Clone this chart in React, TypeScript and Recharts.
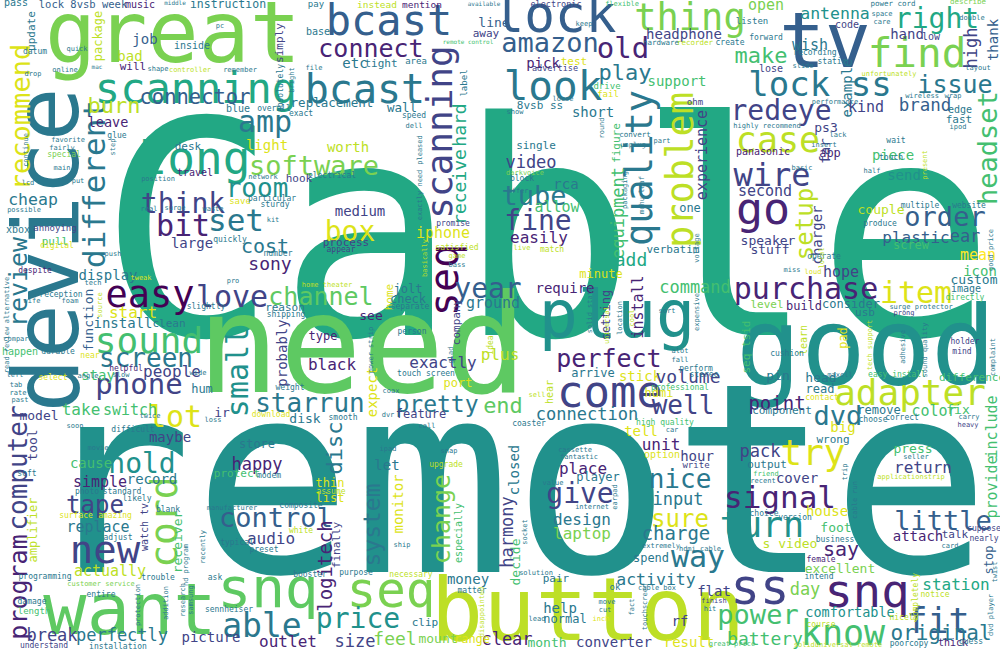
import { Scatter, ScatterChart, XAxis, YAxis } from 'recharts';

// viridis-like tones used by the word cloud
const tones = [
  '#440154', '#482475', '#414487', '#355f8d', '#2a788e', '#21918c',
  '#22a884', '#44bf70', '#7ad151', '#bddf26', '#fde725', '#5ec962', '#dde318',
];

type Row = [string, number, number, number, number, number];

// [word, weight, x, y, vertical, tone]
const headlineWords: Row[] = [
  ['Cable', 298, 547, 335, 0, 6],
  ['remote', 265, 512, 572, 0, 5],
  ['need', 137, 362, 392, 0, 11],
  ['good', 108, 866, 384, 0, 5],
  ['button', 87, 588, 640, 0, 9],
  ['great', 85, 173, 62, 0, 8],
  ['device', 90, 78, 250, 1, 4],
  ['tv', 76, 825, 67, 0, 3],
  ['want', 72, 130, 634, 0, 11],
  ['plug', 65, 617, 337, 0, 5],
];

const largeWords: Row[] = [
  ['snq', 56, 268, 607, 0, 11],
  ['seq', 49, 391, 607, 0, 8],
  ['ss', 49, 760, 604, 0, 2],
  ['snq', 47, 867, 607, 0, 1],
  ['fit', 35, 938, 633, 0, 3],
  ['know', 35, 843, 645, 0, 7],
  ['scanning', 42, 196, 103, 0, 6],
  ['bcast', 40, 365, 103, 0, 4],
  ['bcast', 42, 389, 35, 0, 3],
  ['lock', 51, 555, 32, 0, 3],
  ['thing', 37, 690, 30, 0, 8],
  ['look', 41, 553, 100, 0, 4],
  ['find', 41, 917, 67, 0, 8],
  ['lock ss', 34, 820, 96, 0, 4],
  ['seq', 40, 458, 280, 1, 0],
  ['scanning', 36, 452, 132, 1, 2],
  ['quality', 37, 652, 168, 1, 4],
  ['problem', 37, 693, 170, 1, 9],
  ['long', 46, 195, 174, 0, 6],
  ['easy', 37, 150, 307, 0, 0],
  ['sound', 36, 149, 353, 0, 7],
  ['different', 31, 105, 184, 1, 4],
  ['recommend', 27, 30, 117, 1, 12],
  ['come', 44, 610, 407, 0, 2],
  ['adapter', 36, 910, 405, 0, 9],
  ['purchase', 30, 806, 299, 0, 1],
  ['item', 30, 916, 303, 0, 12],
  ['new', 39, 105, 563, 0, 2],
  ['cord', 38, 177, 522, 1, 8],
  ['lot', 30, 175, 427, 0, 12],
  ['try', 36, 813, 465, 0, 12],
  ['turn', 35, 762, 537, 0, 5],
  ['amp', 30, 265, 132, 0, 4],
  ['bit', 30, 183, 236, 0, 1],
  ['set', 31, 236, 231, 0, 4],
  ['box', 28, 350, 241, 0, 12],
  ['love', 30, 232, 307, 0, 2],
  ['phone', 29, 139, 394, 0, 2],
  ['small', 30, 248, 372, 1, 5],
  ['redeye', 28, 781, 120, 0, 2],
  ['case', 35, 778, 152, 0, 9],
  ['wire', 32, 772, 186, 0, 2],
  ['go', 45, 763, 224, 0, 1],
  ['setup', 24, 813, 224, 1, 9],
  ['order', 27, 945, 226, 0, 3],
  ['headset', 27, 997, 148, 1, 7],
  ['right', 28, 937, 28, 0, 6],
  ['issue', 25, 955, 93, 0, 4],
  ['amazon', 27, 550, 52, 0, 3],
  ['old', 29, 623, 58, 0, 1],
  ['connect', 25, 371, 57, 0, 1],
  ['software', 27, 314, 175, 0, 8],
  ['think', 28, 183, 213, 0, 2],
  ['room', 26, 257, 197, 0, 5],
  ['tube', 27, 534, 205, 0, 4],
  ['fine', 28, 538, 230, 0, 2],
  ['channel', 25, 321, 305, 0, 11],
  ['starrun', 26, 310, 412, 0, 4],
  ['pretty', 23, 437, 412, 0, 4],
  ['year', 28, 488, 298, 0, 3],
  ['perfect', 25, 609, 367, 0, 1],
  ['well', 26, 683, 414, 0, 2],
  ['control', 27, 276, 527, 0, 3],
  ['system', 23, 380, 525, 1, 4],
  ['change', 25, 450, 519, 1, 8],
  ['price', 28, 358, 628, 0, 5],
  ['able', 33, 262, 637, 0, 4],
  ['give', 28, 580, 503, 0, 2],
  ['nice', 26, 680, 488, 0, 4],
  ['sure', 24, 680, 527, 0, 12],
  ['way', 30, 698, 567, 0, 4],
  ['signal', 31, 780, 508, 0, 1],
  ['little', 27, 943, 530, 0, 3],
  ['tape', 24, 95, 513, 0, 2],
  ['hold', 28, 142, 473, 0, 5],
  ['computer', 26, 27, 468, 1, 2],
  ['program', 25, 27, 587, 1, 1],
  ['power', 27, 758, 624, 0, 7],
  ['original', 21, 941, 640, 0, 4],
  ['dvd', 27, 838, 425, 0, 4],
  ['review', 25, 27, 282, 1, 4],
  ['disc', 22, 342, 448, 1, 4],
  ['end', 22, 503, 413, 0, 11],
  ['screen', 26, 146, 367, 0, 4],
  ['play', 22, 625, 80, 0, 4],
  ['make', 22, 761, 63, 0, 7],
];

const mediumWords: Row[] = [
  ['video', 17, 531, 168, 0, 2], ['allow', 15, 557, 212, 0, 7], ['rca', 14, 566, 189, 0, 4],
  ['one', 12, 690, 212, 0, 4], ['support', 14, 677, 86, 0, 7], ['short', 14, 593, 117, 0, 4],
  ['headphone', 14, 684, 39, 0, 2], ['pick', 14, 543, 68, 0, 1], ['test', 11, 574, 65, 0, 12],
  ['8vsb ss', 11, 540, 109, 0, 4], ['experience', 15, 707, 155, 1, 2], ['equipment', 17, 624, 213, 1, 7],
  ['figure', 11, 620, 143, 1, 7], ['single', 11, 536, 149, 0, 4], ['antenna', 16.5, 835, 19, 0, 5],
  ['open', 15, 766, 10, 0, 8], ['wish', 15, 810, 50, 0, 4], ['hand', 14, 907, 39, 0, 2],
  ['low', 10, 931, 40, 0, 2], ['high', 17, 977, 48, 1, 2], ['thank', 14, 998, 40, 1, 3],
  ['code', 10, 847, 28, 0, 2], ['example', 14, 852, 88, 1, 4], ['kind', 15, 866, 112, 0, 2],
  ['brand', 17.5, 925, 111, 0, 3], ['edge', 10, 960, 113, 0, 4], ['fast', 11, 959, 123, 0, 4],
  ['ps3', 13, 826, 132, 0, 2], ['app', 12, 830, 157, 0, 1], ['panasonic', 10, 763, 155, 0, 1],
  ['far', 14, 830, 151, 1, 2], ['piece', 14, 893, 160, 0, 7], ['send', 14, 904, 180, 0, 5],
  ['second', 15, 765, 196, 0, 2], ['couple', 13, 881, 214, 0, 9], ['charger', 14, 822, 235, 1, 2],
  ['speaker', 13, 768, 245, 0, 2], ['stuff', 13, 770, 254, 0, 2], ['plastic', 16, 916, 243, 0, 3],
  ['ear', 17, 965, 242, 0, 3], ['screw', 12, 911, 249, 0, 7], ['mean', 15, 978, 260, 0, 10],
  ['hope', 15, 841, 277, 0, 2], ['icon', 14, 980, 276, 0, 7], ['custom', 13, 974, 284, 0, 4],
  ['consider', 12, 851, 308, 0, 4], ['build', 12, 804, 310, 0, 1], ['level', 11, 767, 308, 0, 8],
  ['usb', 11, 865, 316, 0, 4], ['pin', 13, 778, 380, 0, 4], ['head', 13, 821, 382, 0, 4],
  ['difference', 11, 972, 381, 0, 7], ['read', 12, 820, 393, 0, 4], ['point', 19, 777, 410, 0, 1],
  ['component', 11, 782, 414, 0, 4], ['remove', 12, 879, 414, 0, 4], ['color', 15, 934, 416, 0, 7],
  ['fix', 13, 958, 414, 0, 7], ['include', 15, 997, 427, 1, 7], ['provide', 15, 997, 487, 1, 7],
  ['big', 14, 843, 432, 0, 12], ['pad', 12, 847, 338, 1, 12], ['learn', 10, 807, 340, 1, 9],
  ['pack', 17, 760, 457, 0, 2], ['output', 11, 767, 468, 0, 4], ['cover', 14, 797, 483, 0, 2],
  ['wrong', 11, 833, 443, 0, 4], ['press', 13, 913, 453, 0, 7], ['return', 16, 923, 473, 0, 2],
  ['house', 14, 827, 516, 0, 12], ['foot', 13, 836, 532, 0, 7], ['s video', 13, 790, 548, 0, 9],
  ['say', 20, 841, 556, 0, 1], ['attach', 14, 918, 541, 0, 1], ['talk', 11, 955, 538, 0, 2],
  ['stop', 12, 993, 560, 1, 3], ['excellent', 13, 840, 573, 0, 8], ['day', 17, 805, 595, 0, 8],
  ['station', 16, 956, 590, 0, 6], ['comfortable', 13.5, 850, 617, 0, 5], ['battery', 18, 765, 645, 0, 7],
  ['unit', 16, 661, 450, 0, 1], ['hour', 14, 697, 461, 0, 2], ['place', 16, 583, 474, 0, 1],
  ['player', 12, 598, 481, 0, 4], ['input', 17, 678, 505, 0, 4], ['design', 16, 582, 525, 0, 4],
  ['laptop', 16, 582, 539, 0, 8], ['charge', 19, 676, 540, 0, 4], ['activity', 16.5, 656, 585, 0, 4],
  ['flat', 14, 714, 596, 0, 2], ['help', 14, 560, 613, 0, 4], ['normal', 12, 565, 623, 0, 4],
  ['rf', 14, 680, 626, 0, 2], ['clear', 17, 507, 645, 0, 1], ['month', 13, 547, 647, 0, 7],
  ['converter', 14, 614, 647, 0, 2], ['result', 14, 689, 647, 0, 12], ['spend', 12, 651, 562, 0, 4],
  ['decide', 13, 520, 562, 1, 7], ['harmony', 17, 513, 532, 1, 2], ['closed', 14, 519, 470, 1, 4],
  ['money', 14, 468, 584, 0, 4], ['especially', 10, 462, 533, 1, 7], ['monitor', 14, 403, 504, 1, 12],
  ['logitech', 19, 332, 566, 1, 1], ['finally', 11, 340, 545, 1, 2], ['let', 14, 387, 470, 0, 4],
  ['thin', 12, 330, 487, 0, 12], ['list', 12, 330, 502, 0, 12], ['audio', 16, 271, 544, 0, 2],
  ['happy', 17, 257, 470, 0, 1], ['store', 12, 257, 448, 0, 4], ['protect', 11, 237, 477, 0, 7],
  ['outlet', 16, 288, 647, 0, 1], ['size', 17, 355, 647, 0, 2], ['feel', 18, 395, 645, 0, 8],
  ['mount', 13, 438, 643, 0, 8], ['range', 12, 472, 643, 0, 12], ['clip', 11, 425, 626, 0, 4],
  ['maybe', 14, 170, 442, 0, 2], ['cause', 14, 91, 468, 0, 7], ['simple', 15, 100, 487, 0, 1],
  ['record', 14, 152, 484, 0, 4], ['replace', 15, 98, 532, 0, 4], ['actually', 15, 110, 576, 0, 9],
  ['amplifier', 12, 37, 530, 1, 9], ['watch tv', 10, 148, 527, 1, 2], ['receiver', 13, 182, 542, 1, 7],
  ['break', 17, 52, 641, 0, 2], ['perfectly', 17, 122, 641, 0, 4], ['picture', 14, 211, 642, 0, 2],
  ['tool', 13, 37, 445, 1, 2], ['model', 13, 39, 420, 0, 2], ['take', 16, 81, 415, 0, 7],
  ['switch', 15, 130, 415, 0, 7], ['ir', 13, 222, 417, 0, 2], ['hum', 12, 202, 393, 0, 4],
  ['people', 16, 172, 377, 0, 2], ['stay', 14, 98, 380, 0, 7], ['install', 14, 123, 328, 0, 4],
  ['clean', 11, 169, 327, 0, 4], ['start', 16, 133, 318, 0, 12], ['function', 13, 93, 320, 1, 3],
  ['display', 14, 108, 280, 0, 4], ['large', 14, 192, 248, 0, 2], ['pull', 11, 55, 245, 0, 7],
  ['xbox', 10, 18, 233, 0, 4], ['sony', 18, 270, 270, 0, 1], ['cost', 20, 265, 253, 0, 4],
  ['cheap', 16.5, 33, 205, 0, 4], ['burn', 22, 114, 113, 0, 9], ['leave', 13.5, 108, 127, 0, 1],
  ['connector', 20.5, 195, 104, 0, 3], ['blue', 10, 238, 112, 0, 4], ['light', 14, 267, 150, 0, 12],
  ['worth', 14, 348, 152, 0, 9], ['replacement', 12.5, 332, 107, 0, 4], ['wall', 12.5, 402, 112, 0, 4],
  ['hard', 18, 466, 125, 1, 6], ['receive', 18, 466, 187, 1, 6], ['hook', 11, 299, 182, 0, 2],
  ['medium', 14, 360, 216, 0, 2], ['desk', 11, 188, 150, 0, 4], ['travel', 10, 195, 176, 0, 1],
  ['job', 14, 145, 44, 0, 3], ['bad', 14, 130, 61, 0, 9], ['will', 11, 133, 70, 0, 1],
  ['inside', 10, 192, 49, 0, 4], ['update', 11, 35, 31, 1, 4], ['package', 12, 102, 36, 1, 9],
  ['instruction', 11.5, 228, 8, 0, 4], ['lock 8vsb week', 10.5, 83, 8, 0, 3], ['music', 10, 140, 8, 0, 1],
  ['simply', 11, 283, 43, 1, 2], ['base', 10, 318, 35, 0, 4], ['etc', 14, 355, 68, 0, 4],
  ['tight', 11, 381, 67, 0, 4], ['area', 9, 416, 64, 0, 4], ['line', 13, 494, 27, 0, 3],
  ['away', 11, 486, 37, 0, 2], ['instead', 9.5, 377, 8, 0, 9], ['mention', 9.5, 422, 8, 0, 1],
  ['pay', 9, 316, 7, 0, 4], ['electronic', 8.5, 556, 7, 0, 2], ['label', 9, 467, 83, 1, 4],
  ['easily', 16, 539, 243, 0, 1], ['add', 18, 631, 266, 0, 6], ['verbatim', 11, 673, 253, 0, 4],
  ['minute', 12, 601, 278, 0, 12], ['require', 14, 565, 293, 0, 1], ['command', 17, 695, 293, 0, 7],
  ['install', 15, 643, 307, 1, 1], ['setting', 12, 610, 315, 1, 2], ['stick', 14, 640, 381, 0, 12],
  ['arrive', 12, 593, 377, 0, 4], ['volume', 18, 688, 383, 0, 2], ['hdmi', 12, 659, 397, 0, 12],
  ['connection', 17, 587, 420, 0, 4], ['seq tsid', 11, 750, 347, 1, 7], ['tell', 14, 641, 436, 0, 12],
  ['iphone', 15, 443, 238, 0, 12], ['process', 11, 346, 246, 0, 2], ['reason', 11, 285, 311, 0, 4],
  ['jolt', 12, 408, 293, 0, 4], ['home', 11, 393, 297, 1, 12], ['check', 12, 408, 303, 0, 4],
  ['ground', 15, 493, 308, 0, 4], ['see', 13, 371, 320, 0, 1], ['company', 11, 460, 322, 1, 2],
  ['probably', 14, 287, 353, 1, 2], ['type', 12, 323, 340, 0, 1], ['black', 16, 332, 370, 0, 1],
  ['exactly', 16, 443, 368, 0, 2], ['expect', 14, 377, 392, 1, 12], ['port', 12, 458, 387, 0, 12],
  ['feature', 12, 421, 418, 0, 2], ['disk', 13, 305, 423, 0, 4], ['plus', 16, 500, 360, 0, 9],
  ['drive', 9, 607, 89, 0, 7], ['fail', 9, 608, 97, 0, 12], ['ohm', 9, 695, 105, 0, 2],
  ['hardware', 7.5, 661, 45, 0, 4], ['recorder', 7.5, 695, 45, 0, 9], ['hear', 10, 553, 392, 1, 9],
];

const smallWords: Row[] = [
  ['pass', 10, 16, 6, 0, 4], ['middle', 6, 175, 5, 0, 4], ['pc', 7, 220, 28, 0, 4],
  ['quick', 7, 77, 51, 0, 4], ['datum', 8, 35, 54, 0, 4], ['online', 7, 65, 72, 0, 4],
  ['mac', 6, 97, 69, 0, 4], ['shape', 7, 158, 71, 0, 4], ['controller', 7, 190, 72, 0, 9],
  ['remember', 7, 240, 72, 0, 4], ['drop', 7, 33, 76, 0, 4], ['glue', 8, 117, 138, 0, 4],
  ['favorite', 7, 68, 142, 0, 4], ['fairly', 7, 62, 150, 0, 4], ['special', 8, 64, 157, 0, 8],
  ['main', 7, 62, 170, 0, 4], ['lcd', 7, 28, 185, 0, 4], ['put', 7, 78, 183, 0, 4],
  ['possible', 7, 24, 212, 0, 4], ['position', 7, 158, 181, 0, 4], ['save', 9, 240, 204, 0, 12],
  ['surge', 7, 175, 210, 0, 4], ['waste', 7, 213, 211, 0, 4], ['real', 7, 149, 211, 0, 4],
  ['electrical', 8, 332, 178, 0, 4], ['network', 7, 263, 179, 0, 4], ['particular', 8, 272, 201, 0, 4],
  ['sturdy', 8, 275, 207, 0, 4], ['speed', 8, 414, 118, 0, 4], ['dell', 7, 414, 128, 0, 4],
  ['overall', 8, 274, 111, 0, 4], ['exact', 8, 301, 116, 0, 4], ['file', 7, 314, 70, 0, 4],
  ['absolutely', 8, 283, 88, 1, 4], ['remote control', 6, 468, 44, 0, 7], ['available', 6, 484, 6, 0, 4],
  ['flexible', 7, 622, 6, 0, 7], ['keep', 7, 584, 26, 0, 4], ['create', 8, 730, 45, 0, 4],
  ['advertise', 8.5, 555, 71, 0, 2], ['loose', 7, 563, 101, 0, 4], ['show', 7, 515, 114, 0, 4],
  ['convert', 7.5, 635, 137, 0, 4], ['part', 7, 662, 143, 0, 4], ['unplug', 7, 633, 147, 0, 4],
  ['darkvoice', 7, 525, 175, 0, 8], ['block', 8, 522, 181, 0, 4], ['offer', 7, 518, 193, 0, 4],
  ['power cord', 7.5, 893, 6, 0, 4], ['describe', 7.5, 968, 4, 0, 8], ['double', 7, 972, 20, 0, 4],
  ['space', 7, 882, 16, 0, 4], ['care', 7, 882, 24, 0, 4], ['listen', 9, 752, 24, 0, 4],
  ['forward', 8, 766, 40, 0, 4], ['recording', 8, 815, 55, 0, 4], ['static', 8, 832, 64, 0, 4],
  ['slide', 7, 803, 68, 0, 4], ['lose', 10, 771, 72, 0, 2], ['unfortunately', 7, 889, 76, 0, 9],
  ['layout', 7, 978, 70, 0, 4], ['wireless', 7, 922, 98, 0, 4], ['wrap', 7, 953, 98, 0, 4],
  ['performance', 7, 835, 104, 0, 4], ['highly recommend', 7, 767, 128, 0, 4], ['ipod', 7, 958, 129, 0, 4],
  ['lack', 7, 838, 137, 0, 4], ['insert', 7, 824, 147, 0, 4], ['wait', 8, 896, 143, 0, 4],
  ['touch', 8, 891, 160, 0, 4], ['half', 7, 872, 173, 0, 4], ['basic', 7, 802, 170, 0, 4],
  ['multiple', 8, 920, 208, 0, 4], ['website', 8, 969, 208, 0, 4], ['produce', 8, 880, 226, 0, 4],
  ['operate', 8, 824, 259, 0, 4], ['miss', 7, 792, 272, 0, 4], ['loud', 7, 813, 274, 0, 12],
  ['image', 10, 966, 292, 0, 4], ['directly', 8, 965, 300, 0, 7], ['surge protector', 7, 921, 309, 0, 4],
  ['prong', 7, 904, 315, 0, 2], ['holder', 8, 965, 344, 0, 2], ['mind', 8, 962, 354, 0, 2],
  ['cushion', 8, 787, 356, 0, 4], ['maxell', 7, 840, 377, 0, 4], ['easy install', 8, 897, 377, 0, 7],
  ['contact', 8, 822, 400, 0, 12], ['choose', 8, 873, 422, 0, 4], ['correct', 8, 902, 420, 0, 4],
  ['carry', 7, 969, 419, 0, 4], ['heavy', 7, 968, 427, 0, 2], ['annoying', 9, 55, 231, 0, 2],
  ['quickly', 8, 230, 242, 0, 4], ['digital', 8, 57, 248, 0, 12], ['push', 7, 113, 256, 0, 4],
  ['despite', 8, 35, 273, 0, 1], ['tweak', 7, 141, 280, 0, 12], ['tech', 7, 93, 285, 0, 4],
  ['pro', 7, 233, 283, 0, 4], ['reception', 8, 61, 297, 0, 4], ['wife', 7, 32, 303, 0, 4],
  ['foam', 7, 70, 303, 0, 4], ['slightly', 8, 206, 309, 0, 4], ['happen', 10, 20, 355, 0, 7],
  ['durable', 8, 58, 354, 0, 4], ['near', 8, 90, 358, 0, 12], ['compare', 7, 18, 341, 0, 4],
  ['helpful', 8, 126, 371, 0, 1], ['slow', 7, 121, 377, 0, 4], ['left', 7, 15, 377, 0, 4],
  ['select', 8, 53, 380, 0, 12], ['angle', 7, 88, 378, 0, 4], ['wide', 7, 198, 375, 0, 4],
  ['tab', 7, 16, 387, 0, 4], ['rate', 7, 18, 395, 0, 4], ['past', 7, 20, 402, 0, 4],
  ['soon', 7, 75, 428, 0, 4], ['difficult', 8, 133, 432, 0, 4], ['loss', 7, 213, 422, 0, 4],
  ['twice', 7, 150, 418, 0, 4], ['kit', 7, 273, 222, 0, 4], ['appear', 8, 341, 252, 0, 2],
  ['number', 8, 278, 256, 0, 4], ['promise', 8, 453, 226, 0, 2], ['satisfied', 8, 457, 250, 0, 9],
  ['game', 7, 457, 258, 0, 9], ['bass', 7, 457, 267, 0, 4], ['home theater', 7, 327, 287, 0, 9],
  ['shipping', 8, 286, 317, 0, 4], ['separate', 8, 410, 309, 0, 4], ['person', 8, 412, 334, 0, 4],
  ['weight', 8, 290, 390, 0, 4], ['touch screen', 8, 426, 376, 0, 4], ['coax', 7, 391, 393, 0, 4],
  ['dvr', 7, 388, 417, 0, 4], ['smooth', 8, 343, 420, 0, 4], ['download', 8, 271, 417, 0, 12],
  ['call', 7, 427, 428, 0, 4], ['live', 7, 522, 250, 0, 9], ['match', 8, 552, 252, 0, 9],
  ['sort', 7, 667, 313, 0, 4], ['alot', 7, 680, 353, 0, 4], ['fall', 7, 680, 362, 0, 4],
  ['perform', 8, 696, 371, 0, 4], ['stereo', 8, 704, 377, 0, 4], ['professional', 8, 680, 390, 0, 7],
  ['sell', 7, 537, 397, 0, 9], ['coaster', 8, 529, 426, 0, 4], ['high quality', 8, 665, 425, 0, 7],
  ['car', 7, 672, 432, 0, 4], ['movie', 7, 98, 450, 0, 4], ['soft', 8, 27, 476, 0, 4],
  ['photo', 8, 87, 494, 0, 4], ['standard', 8, 122, 494, 0, 4], ['likely', 8, 137, 501, 0, 4],
  ['blank', 8, 168, 512, 0, 4], ['surface', 8, 76, 518, 0, 12], ['amazing', 8, 115, 518, 0, 12],
  ['adjust', 8, 118, 540, 0, 4], ['manufacturer', 7, 232, 510, 0, 4], ['typical', 8, 237, 545, 0, 4],
  ['programming', 8, 45, 579, 0, 4], ['customer service', 7, 101, 586, 0, 8], ['trouble', 8, 158, 580, 0, 4],
  ['entire', 8, 101, 597, 0, 4], ['damage', 8, 32, 604, 0, 4], ['length', 9, 34, 614, 0, 7],
  ['ask', 8, 215, 580, 0, 4], ['sennheiser', 8, 229, 612, 0, 4], ['understand', 8, 44, 648, 0, 2],
  ['installation', 8, 118, 649, 0, 4], ['composite', 8, 301, 508, 0, 4], ['white', 8, 301, 533, 0, 9],
  ['preset', 8, 264, 552, 0, 4], ['booster', 8, 310, 577, 0, 4], ['purpose', 8, 356, 575, 0, 4],
  ['necessary', 8, 411, 577, 0, 9], ['ship', 7, 402, 547, 0, 4], ['assume', 8, 331, 494, 0, 9],
  ['modem', 8, 269, 478, 0, 4], ['ipad', 7, 388, 451, 0, 4], ['snap', 7, 449, 453, 0, 4],
  ['upgrade', 8, 446, 467, 0, 9], ['matter', 8, 472, 593, 0, 4], ['cassette', 7, 575, 452, 0, 4],
  ['fantastic', 7, 579, 459, 0, 4], ['option', 10, 662, 458, 0, 12], ['write', 9, 696, 468, 0, 2],
  ['value', 7, 553, 485, 0, 4], ['internet', 7, 592, 509, 0, 4], ['extremely', 7, 661, 548, 0, 4],
  ['hdmi cable', 7, 700, 551, 0, 4], ['solution', 7, 536, 575, 0, 4], ['pair', 11, 556, 582, 0, 4],
  ['ok', 9, 615, 590, 0, 4], ['cable box', 7, 657, 590, 0, 4], ['finish', 7, 714, 603, 0, 2],
  ['hit', 7, 710, 611, 0, 4], ['lead', 7, 537, 621, 0, 4], ['move', 7, 607, 604, 0, 4],
  ['cut', 7, 605, 612, 0, 4], ['inch', 7, 601, 621, 0, 12], ['great price', 7, 732, 646, 0, 7],
  ['friend', 7, 766, 476, 0, 7], ['recent', 7, 763, 483, 0, 4], ['seller', 7, 916, 459, 0, 4],
  ['applicationstrip', 7, 911, 479, 0, 9], ['version', 8, 795, 520, 0, 4], ['choice', 8, 764, 516, 0, 4],
  ['business', 8, 835, 542, 0, 4], ['suppose', 8, 984, 531, 0, 2], ['nearly', 8, 984, 541, 0, 2],
  ['card', 7, 950, 548, 0, 4], ['female', 8, 821, 562, 0, 1], ['intend', 8, 819, 579, 0, 4],
  ['notice', 8, 935, 597, 0, 9], ['nicely', 8, 904, 620, 0, 9], ['course', 8, 821, 627, 0, 9],
  ['poorcopy', 8, 909, 646, 0, 4], ['thick', 10, 953, 646, 0, 1], ['guess', 8, 971, 644, 0, 4],
  ['soliduniversal remote', 7, 838, 647, 0, 9],
  ['completely', 8, 918, 597, 1, 9], ['dvd player', 7, 993, 615, 1, 4], ['twist', 7, 997, 572, 1, 4],
  ['present', 7, 927, 165, 1, 9], ['protection', 7, 140, 605, 1, 4], ['addition', 7, 168, 603, 1, 4],
  ['research', 7, 185, 600, 1, 4], ['samsung', 7, 193, 600, 1, 4], ['recently', 7, 205, 547, 1, 4],
  ['hd program', 7, 188, 565, 1, 4], ['power strip', 7, 373, 350, 1, 4], ['glad', 7, 453, 355, 1, 4],
  ['idea', 8, 493, 345, 1, 9], ['basically', 7, 427, 258, 1, 9], ['pleased', 7, 422, 150, 1, 4],
  ['exactly need', 7, 422, 195, 1, 4], ['step', 7, 115, 147, 1, 4], ['continue', 7, 28, 150, 1, 4],
  ['alternative', 7, 9, 300, 1, 4], ['read review', 7, 9, 350, 1, 4], ['source', 7, 102, 305, 1, 9],
  ['round', 7, 604, 128, 1, 4], ['packaging', 7, 627, 190, 1, 4], ['mohu leaf', 7, 644, 195, 1, 4],
  ['bright', 7, 294, 80, 1, 4], ['voltage', 7, 699, 248, 1, 4], ['solid state', 7, 592, 310, 1, 4],
  ['universal', 7, 609, 325, 1, 9], ['location', 7, 622, 318, 1, 4], ['cool', 7, 634, 318, 1, 9],
  ['expensive', 7, 699, 312, 1, 4], ['tech support', 7, 872, 345, 1, 9], ['adhesive', 7, 905, 347, 1, 4],
  ['sound quality', 7, 927, 350, 1, 4], ['complaint', 7, 995, 357, 1, 4], ['local', 7, 824, 258, 1, 9],
  ['good price', 7, 993, 250, 1, 4], ['trip', 7, 847, 472, 1, 4], ['cable run', 7, 857, 500, 1, 4],
  ['fact', 7, 634, 607, 1, 4], ['touchscreen', 7, 647, 607, 1, 4], ['disappointed', 7, 484, 612, 1, 9],
  ['socket', 7, 527, 532, 1, 4], ['earpad', 7, 617, 497, 1, 4],
];

const cloud = [...headlineWords, ...largeWords, ...mediumWords, ...smallWords].map(
  ([text, size, x, y, vertical, tone]) => ({ text, size, x, y, vertical: vertical === 1, tone }),
);

function Word(props: any) {
  const { cx, cy, payload } = props;
  if (cx == null || cy == null) return null;
  return (
    <text
      x={cx}
      y={cy}
      textAnchor="middle"
      fontFamily="'DejaVu Sans Mono', monospace"
      fontSize={payload.size}
      fill={tones[payload.tone]}
      transform={payload.vertical ? `rotate(-90 ${cx} ${cy})` : undefined}
    >
      {payload.text}
    </text>
  );
}

export default function App() {
  return (
    <div style={{ position: 'absolute', left: 0, top: 0, width: 1000, height: 650, background: '#fff' }}>
      <ScatterChart width={1000} height={650} margin={{ top: 0, right: 0, bottom: 0, left: 0 }}>
        <XAxis dataKey="x" type="number" domain={[0, 1000]} hide allowDataOverflow />
        <YAxis dataKey="y" type="number" domain={[0, 650]} reversed hide allowDataOverflow />
        <Scatter data={cloud} shape={Word} isAnimationActive={false} />
      </ScatterChart>
    </div>
  );
}
